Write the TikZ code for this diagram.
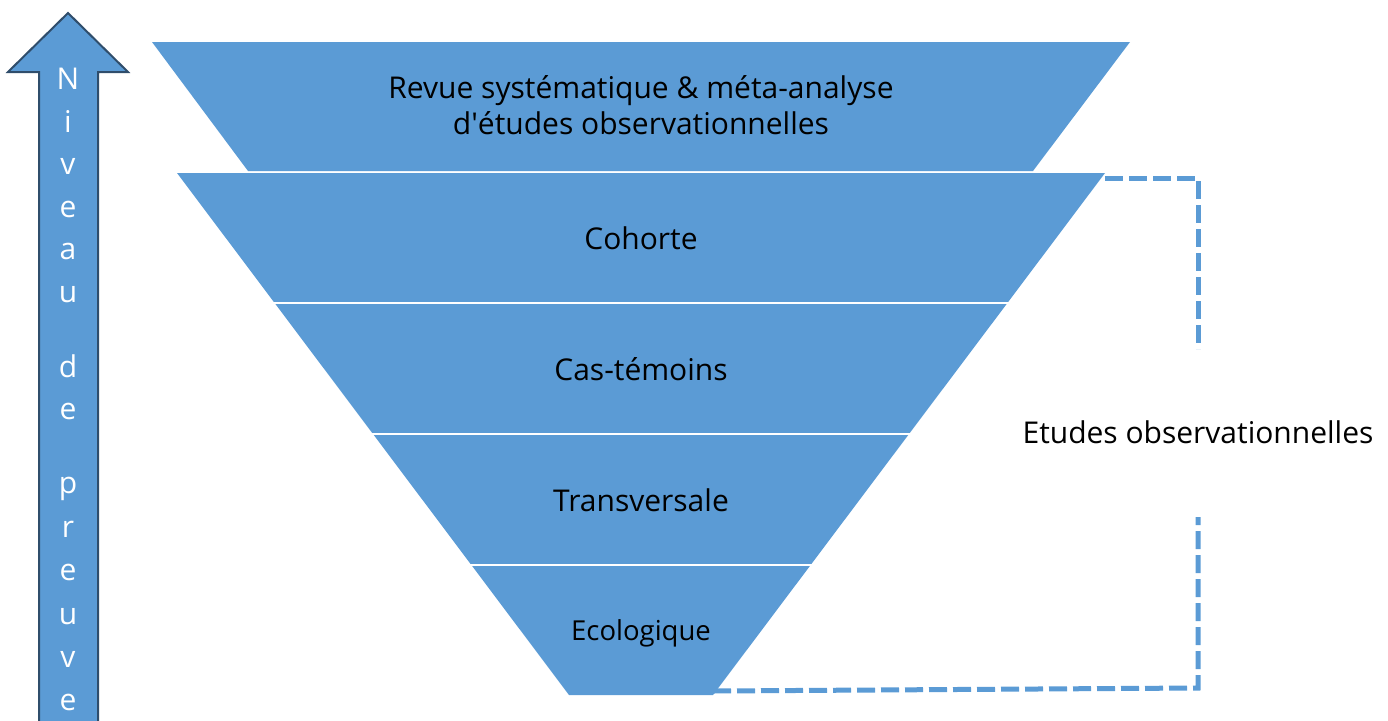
\documentclass[tikz,border=0pt]{standalone}
\usepackage{fontspec}
\setmainfont{Open Sans}
\definecolor{bleu}{HTML}{5B9BD5}
\definecolor{bleufonce}{HTML}{2F4D6B}

\begin{document}
\begin{tikzpicture}[x=1pt,y=-1pt,
        niveau/.style={font=\fontsize{30}{36}\selectfont,align=center,anchor=base},
        lettre/.style={font=\fontsize{30}{36}\selectfont,text=white,anchor=base},
        crochet/.style={draw=bleu,line width=5pt,dash pattern=on 18pt off 6pt}]
        \path[use as bounding box,clip] (0,0) rectangle (1388,720);
        \fill[bleu] (152,42) -- (1130,42) -- (1033,171) -- (248,171) -- cycle;
        \fill[bleu] (177,173) coordinate (coh-no) -- (1105,173) coordinate (coh-ne)
            -- (713,695) coordinate (eco-se) -- (569,695) coordinate (eco-so) -- cycle;
        \foreach \y in {303,434,565}
            \draw[white,line width=2.6pt] (150,\y) -- (1130,\y);
        \draw[bleufonce,fill=bleu,line width=2pt] (68,13) -- (128,72) -- (98,72) -- (98,740)
            -- (39,740) -- (39,72) -- (8,72) -- cycle;
        \foreach \c/\b [count=\i] in {N/89,i/132,v/174,e/217,a/259,u/302,d/377,e/419,p/493,r/537,e/580,u/624,v/667,e/710}
            \node[lettre] (lettre\i) at (68,\b) {\c};
        \node[niveau] (meta) at (641,134) {Revue systématique \& méta-analyse\\d\textquotesingle études observationnelles};
        \node[niveau] (cohorte) at (641,249) {Cohorte};
        \node[niveau] (cas) at (641,380) {Cas-témoins};
        \node[niveau] (transv) at (641,511) {Transversale};
        \node[niveau,font=\fontsize{27.5}{33}\selectfont] (eco) at (641,640) {Ecologique};
        \coordinate (obs-nord) at (1198,178);
        \coordinate (obs-sud) at (1198,688);
        \draw[crochet] ([yshift=-5pt]coh-ne) -- (obs-nord) -- ([yshift=-171pt]obs-nord);
        \draw[crochet] ([yshift=4pt]eco-se) -- (obs-sud) -- ([yshift=171pt]obs-sud);
        \node[niveau] (obs) at (1198,443) {Etudes observationnelles};
    \end{tikzpicture}
\end{document}
